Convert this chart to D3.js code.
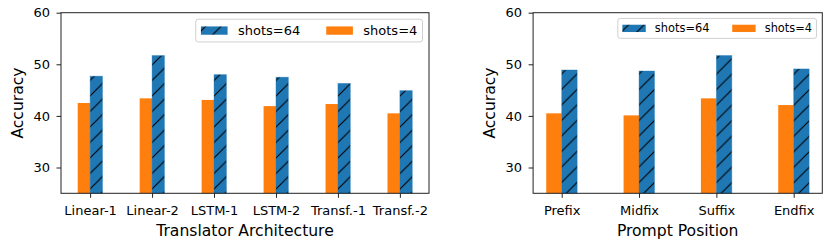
<!DOCTYPE html>
<html>
<head>
<meta charset="utf-8">
<script src="https://cdn.jsdelivr.net/npm/d3@7"></script>
<style>
  html, body { margin: 0; padding: 0; background: #fff; }
  svg { display: block; font-family: "DejaVu Sans", sans-serif; }
  .domain, .tick line { stroke: #222; }
  .tick text { fill: #000; }
</style>
</head>
<body>
<svg width="831" height="246"></svg>
<script>
// Values
const archCategories = ["Linear-1", "Linear-2", "LSTM-1", "LSTM-2", "Transf.-1", "Transf.-2"];
const archShots4 = [42.5, 43.4, 43.1, 41.9, 42.3, 40.5];
const archShots64 = [47.7, 51.7, 48.0, 47.5, 46.3, 44.9];

const posCategories = ["Prefix", "Midfix", "Suffix", "Endfix"];
const posShots4 = [40.5, 40.1, 43.4, 42.1];
const posShots64 = [48.9, 48.7, 51.7, 49.1];

const yTicks = [30, 40, 50, 60];
const yDomain = [25, 60];
const seriesLabels = ["shots=64", "shots=4"];

const BLUE = "#1f77b4";
const ORANGE = "#ff7f0e";
const BAR_W = 0.2;
const FONT = "DejaVu Sans, sans-serif";

const svg = d3.select("svg");

// hatch "/" like matplotlib
const H = 15.5;
const defs = svg.append("defs");
const hatch = defs.append("pattern")
  .attr("id", "hatch")
  .attr("patternUnits", "userSpaceOnUse")
  .attr("width", H)
  .attr("height", H);
hatch.append("rect").attr("width", H).attr("height", H).attr("fill", BLUE);
hatch.append("path")
  .attr("d", `M-3,3 L3,-3 M0,${H} L${H},0 M${H - 3},${H + 3} L${H + 3},${H - 3}`)
  .attr("stroke", "#000")
  .attr("stroke-width", 1.1);

function drawPanel(opts) {
  const { categories, shots4, shots64, left, right, xLabel, legendFont } = opts;
  const top = 12.7, bottom = 193.3;
  const n = categories.length;

  // matplotlib-style x limits: bar extent plus 5% margins
  const lo = -BAR_W, hi = n - 1 + BAR_W;
  const pad = (hi - lo) * 0.05;
  const x = d3.scaleLinear().domain([lo - pad, hi + pad]).range([left, right]);
  const y = d3.scaleLinear().domain(yDomain).range([bottom, top]);

  const g = svg.append("g");

  // bars: shots=4 to the left of the tick, shots=64 to the right
  g.selectAll(".bar4")
    .data(shots4)
    .join("rect")
    .attr("x", (d, i) => x(i - BAR_W))
    .attr("width", (d, i) => x(i) - x(i - BAR_W))
    .attr("y", d => y(d))
    .attr("height", d => y(yDomain[0]) - y(d))
    .attr("fill", ORANGE);

  g.selectAll(".bar64")
    .data(shots64)
    .join("rect")
    .attr("x", (d, i) => x(i))
    .attr("width", (d, i) => x(i + BAR_W) - x(i))
    .attr("y", d => y(d))
    .attr("height", d => y(yDomain[0]) - y(d))
    .attr("fill", "url(#hatch)")
    .attr("stroke", "rgba(31,119,180,0.45)")
    .attr("stroke-width", 0.8);

  // frame
  g.append("rect")
    .attr("x", left).attr("y", top)
    .attr("width", right - left).attr("height", bottom - top)
    .attr("fill", "none").attr("stroke", "#222").attr("stroke-width", 1);

  // axes
  const xAxis = g.append("g")
    .attr("transform", `translate(0,${bottom})`)
    .call(d3.axisBottom(x)
      .tickValues(d3.range(n))
      .tickFormat(i => categories[i])
      .tickSize(4.5)
      .tickPadding(8)
      .tickSizeOuter(0));
  xAxis.attr("font-family", FONT).attr("font-size", 13);
  xAxis.select(".domain").remove();

  const yAxis = g.append("g")
    .attr("transform", `translate(${left},0)`)
    .call(d3.axisLeft(y)
      .tickValues(yTicks)
      .tickSize(4.5)
      .tickPadding(6.5)
      .tickSizeOuter(0));
  yAxis.attr("font-family", FONT).attr("font-size", 13);
  yAxis.select(".domain").remove();

  // axis labels
  g.append("text")
    .attr("x", (left + right) / 2)
    .attr("y", bottom + 42.2)
    .attr("text-anchor", "middle")
    .attr("font-size", 15.6)
    .text(xLabel);

  g.append("text")
    .attr("transform", `translate(${left - 38},${(top + bottom) / 2}) rotate(-90)`)
    .attr("text-anchor", "middle")
    .attr("font-size", 15.6)
    .text("Accuracy");

  // legend, upper right, two columns
  const em = legendFont;
  const lg = g.append("g");
  const box = lg.append("rect");
  const handleW = 2.05 * em, handleH = 0.64 * em;
  const boxTop = top + 0.5 * em;
  const boxH = 1.75 * em;
  const cy = boxTop + boxH / 2;

  const items = lg.selectAll(".item")
    .data(seriesLabels)
    .join("g");
  items.append("rect")
    .attr("y", cy - handleH / 2)
    .attr("width", handleW)
    .attr("height", handleH)
    .attr("fill", (d, i) => i === 0 ? "url(#hatch)" : ORANGE);
  items.append("text")
    .attr("x", handleW + 0.8 * em)
    .attr("y", cy)
    .attr("dy", "0.36em")
    .attr("font-size", em)
    .text(d => d);

  const widths = [];
  items.each(function () {
    const tw = d3.select(this).select("text").node().getComputedTextLength();
    widths.push(handleW + 0.8 * em + tw);
  });
  const innerW = d3.sum(widths) + 2.0 * em;
  const boxW = innerW + 0.8 * em;
  const boxLeft = right - 0.5 * em - boxW;
  items.attr("transform", (d, i) => {
    const off = boxLeft + 0.4 * em + (i === 0 ? 0 : widths[0] + 2.0 * em);
    return `translate(${off},0)`;
  });
  box.attr("x", boxLeft).attr("y", boxTop)
    .attr("width", boxW).attr("height", boxH)
    .attr("rx", 2.5)
    .attr("fill", "rgba(255,255,255,0.8)")
    .attr("stroke", "#d0d0d0")
    .attr("stroke-width", 1);
}

drawPanel({
  categories: archCategories,
  shots4: archShots4,
  shots64: archShots64,
  left: 61, right: 429,
  xLabel: "Translator Architecture",
  legendFont: 13
});

drawPanel({
  categories: posCategories,
  shots4: posShots4,
  shots64: posShots64,
  left: 533.1, right: 822.3,
  xLabel: "Prompt Position",
  legendFont: 11.4
});
</script>
</body>
</html>
